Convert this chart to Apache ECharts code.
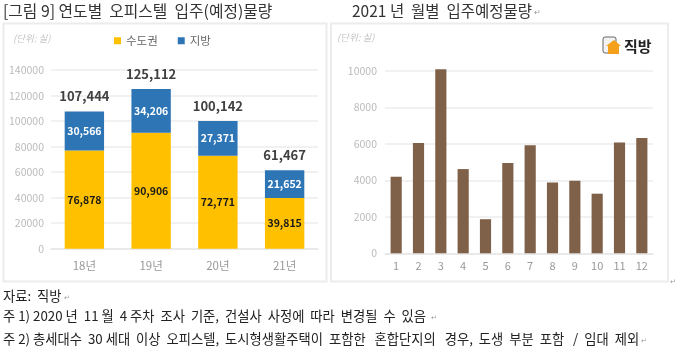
<!DOCTYPE html>
<html>
<head>
<meta charset="utf-8">
<title>오피스텔 입주물량</title>
<script src="https://cdn.jsdelivr.net/npm/echarts@6/dist/echarts.min.js"></script>
<style>
html, body { margin: 0; padding: 0; background: #fff; }
#chart { width: 680px; height: 352px; }
</style>
</head>
<body>
<div id="chart"></div>
<script>
var font = '"Noto Sans CJK KR", sans-serif';

// 연도별 입주물량
var years = ['18년', '19년', '20년', '21년'];
var metro = [76878, 90906, 72771, 39815];
var local = [30566, 34206, 27371, 21652];
var totals = [107444, 125112, 100142, 61467];

// 2021년 월별
var months = ['1', '2', '3', '4', '5', '6', '7', '8', '9', '10', '11', '12'];
var monthly = [4200, 6050, 10100, 4620, 1870, 4950, 5930, 3880, 3980, 3270, 6080, 6330];

var chart = echarts.init(document.getElementById('chart'));

function comma(p) {
    return echarts.format.addCommas(p.value);
}

function plain(v) {
    return String(v);
}

function panel(x, w) {
    return {
        type: 'rect', z: -1,
        shape: { x: x, y: 23.5, width: w, height: 258 },
        style: { fill: '#fff', stroke: '#ececec', lineWidth: 2 }
    };
}

function txt(x, y, s, size, color, extra) {
    var style = { x: x, y: y, text: s, fontSize: size, fill: color, fontFamily: font, textVerticalAlign: 'middle' };
    for (var k in extra) { style[k] = extra[k]; }
    return { type: 'text', style: style };
}

var option = {
    animation: false,
    textStyle: { fontFamily: font },
    legend: {
        data: ['수도권', '지방'],
        left: 109, top: 30,
        itemWidth: 7, itemHeight: 7, itemGap: 20,
        icon: 'rect',
        textStyle: { color: '#666', fontSize: 11.5, fontFamily: font }
    },
    grid: [
        { left: 51, top: 70, width: 267, height: 178.7 },
        { left: 385, top: 71, width: 268, height: 182.3 }
    ],
    xAxis: [
        {
            type: 'category', gridIndex: 0, data: years,
            axisLine: { lineStyle: { color: '#e6e6e6', width: 1.5 } },
            axisTick: { show: false },
            axisLabel: { color: '#999', fontSize: 11.5, margin: 11 }
        },
        {
            type: 'category', gridIndex: 1, data: months,
            axisLine: { lineStyle: { color: '#e6e6e6', width: 1.5 } },
            axisTick: { show: false },
            axisLabel: { color: '#999', fontSize: 11, margin: 7, interval: 0 }
        }
    ],
    yAxis: [
        {
            type: 'value', gridIndex: 0, min: 0, max: 140000, interval: 20000,
            axisLine: { show: false }, axisTick: { show: false },
            axisLabel: { color: '#bbb', fontSize: 10.5, margin: 7, formatter: plain },
            splitLine: { lineStyle: { color: '#ececec', width: 1.5 } }
        },
        {
            type: 'value', gridIndex: 1, min: 0, max: 10000, interval: 2000,
            axisLine: { show: false }, axisTick: { show: false },
            axisLabel: { color: '#bbb', fontSize: 10.5, margin: 8, formatter: plain },
            splitLine: { lineStyle: { color: '#ececec', width: 1.5 } }
        }
    ],
    series: [
        {
            name: '수도권', type: 'bar', stack: 'year', data: metro,
            xAxisIndex: 0, yAxisIndex: 0, barWidth: '59%',
            itemStyle: { color: '#ffc000' },
            label: { show: true, position: 'inside', formatter: comma, color: '#1a1a1a', fontSize: 10.5, fontWeight: 'bold' }
        },
        {
            name: '지방', type: 'bar', stack: 'year', data: local,
            xAxisIndex: 0, yAxisIndex: 0, barWidth: '59%',
            itemStyle: { color: '#2e75b6' },
            label: { show: true, position: 'inside', formatter: comma, color: '#fff', fontSize: 10.5, fontWeight: 'bold' }
        },
        {
            // 합계 라벨만 표시
            name: '합계', type: 'line', data: totals,
            xAxisIndex: 0, yAxisIndex: 0,
            symbol: 'circle', symbolSize: 1, showSymbol: true,
            itemStyle: { color: 'transparent' }, lineStyle: { color: 'transparent' },
            label: { show: true, position: 'top', distance: 8, formatter: comma, color: '#404040', fontSize: 13, fontWeight: 'bold' }
        },
        {
            // 3월은 축 최대값을 약간 넘음
            name: '월별', type: 'bar', data: monthly, clip: false,
            xAxisIndex: 1, yAxisIndex: 1, barWidth: '50%',
            itemStyle: { color: '#7f6048' }
        }
    ],
    graphic: [
        panel(3.5, 323),
        panel(331, 337),
        txt(3, 11, '[그림 9] 연도별  오피스텔  입주(예정)물량', 15.8, '#333'),
        txt(352, 11, '2021 년  월별  입주예정물량', 15.5, '#333'),
        txt(534, 12, '↵', 8, '#999'),
        txt(13, 38, '(단위: 실)', 9.5, '#c4c4c4', { fontStyle: 'italic' }),
        txt(337, 37, '(단위: 실)', 9.5, '#c4c4c4', { fontStyle: 'italic' }),
        // 직방 로고
        { type: 'rect', shape: { x: 603, y: 37, width: 13, height: 16, r: 2 }, style: { fill: '#f2f2f2', stroke: '#666', lineWidth: 1 } },
        { type: 'polygon', shape: { points: [[606, 46], [614, 40], [621, 46], [619, 46], [619, 54], [608, 54], [608, 46]] }, style: { fill: '#f5a01a' } },
        txt(624, 46, '직방', 15, '#222', { fontWeight: 'bold' }),
        txt(3, 296, '자료:  직방', 13.3, '#222'),
        txt(64, 297, '↵', 7, '#999'),
        txt(3, 316, '주 1) 2020 년  11 월  4 주차  조사  기준,  건설사  사정에  따라  변경될  수  있음', 13.3, '#222'),
        txt(431, 317, '↵', 7, '#999'),
        txt(3, 339, '주 2) 총세대수  30 세대  이상  오피스텔,  도시형생활주택이  포함한   혼합단지의   경우,  도생  부분  포함   /  임대  제외', 13.3, '#222'),
        txt(641, 340, '↵', 7, '#999'),
        txt(670, 281, '↵', 7, '#999')
    ]
};

chart.setOption(option);
</script>
</body>
</html>
